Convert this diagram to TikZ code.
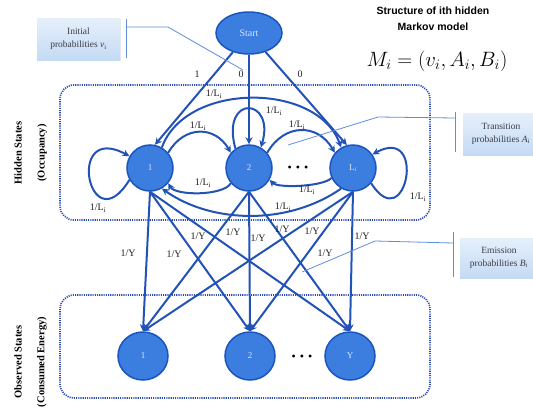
\documentclass[tikz,border=0pt]{standalone}
\usepackage{fontspec}
\setmainfont{Liberation Serif}
\newfontfamily\titlefont{Liberation Sans}
\usetikzlibrary{arrows.meta,shapes.geometric,shadows}

\definecolor{nodefill}{RGB}{60,126,224}
\definecolor{nodeline}{RGB}{28,84,190}
\definecolor{edgeblue}{RGB}{34,82,182}
\definecolor{frameblue}{RGB}{44,78,176}
\definecolor{leader}{RGB}{96,140,220}
\definecolor{calltop}{RGB}{230,240,252}
\definecolor{callbot}{RGB}{196,218,244}
\definecolor{calltext}{RGB}{60,60,70}
\definecolor{nodetext}{RGB}{215,230,252}
\definecolor{labeltext}{RGB}{30,30,30}

\begin{document}
\begin{tikzpicture}[x=1pt,y=-1pt,
  startnode/.style={ellipse, draw=nodeline, line width=1.5pt, fill=nodefill,
    minimum width=66pt, minimum height=42pt, inner sep=0pt, text=nodetext,
    font=\fontsize{10}{11}\selectfont},
  state/.style={circle, draw=nodeline, line width=1.5pt, fill=nodefill,
    minimum size=46pt, inner sep=0pt, text=nodetext, font=\fontsize{9}{10}\selectfont},
  obs/.style={ellipse, draw=nodeline, line width=1.5pt, fill=nodefill,
    minimum width=50pt, minimum height=48pt, inner sep=0pt, text=nodetext,
    font=\fontsize{9}{10}\selectfont},
  frame/.style={draw=frameblue, line width=1.7pt, dash pattern=on 1.1pt off 1.1pt,
    rounded corners=14pt},
  link/.style={draw=edgeblue, line width=2pt, -{Stealth[length=7pt,width=7pt]}},
  lbl/.style={text=labeltext, font=\fontsize{10}{11}\selectfont, inner sep=1pt},
  dotrow/.style={text=black, font=\fontsize{12}{12}\selectfont, inner sep=0pt},
  callout/.style={top color=calltop, bottom color=callbot, draw=none, text=calltext,
    font=\fontsize{9.5}{13}\selectfont, align=center, inner sep=0pt,
    drop shadow={shadow xshift=1pt, shadow yshift=-1.2pt, opacity=0.18}},
  leaderline/.style={draw=leader, line width=0.8pt},
  side/.style={rotate=90, text=black, font=\bfseries\fontsize{10.5}{12}\selectfont}
]
\useasboundingbox (0,0) rectangle (533,410);
\clip (0,0) rectangle (533,410);

% dotted group frames
\draw[frame] (60,85) rectangle (430,220);
\draw[frame] (60,295) rectangle (430,398);

% group captions
\node[side] (hs)  at (18,153) {Hidden States};
\node[side] (occ) at (42,153) {(Occupancy)};
\node[side] (os)  at (18,362) {Observed States};
\node[side] (ce)  at (42,362) {(Consumed Energy)};

% model title
\node[font=\titlefont\bfseries\fontsize{10.5}{16}\selectfont, align=center] (title)
  at (433,19) {Structure of ith hidden\\Markov model};
\node[font=\fontsize{22}{26}\selectfont] (model) at (437,61) {$M_i=(v_i,A_i,B_i)$};

% states
\node[startnode] (S) at (249,33) {Start};
\node[state] (H1) at (150,168) {1};
\node[state] (H2) at (249,168) {2};
\node[state] (HL) at (353,168) {L\textsubscript{i}};
\node[dotrow] (hd) at (298,169) {\textbullet\hspace{4pt}\textbullet\hspace{4pt}\textbullet};

\node[obs] (O1) at (143,356) {1};
\node[obs] (O2) at (250,356) {2};
\node[obs] (OY) at (350,356) {Y};
\node[dotrow] (od) at (302,358) {\textbullet\hspace{4pt}\textbullet\hspace{4pt}\textbullet};

% initial probabilities
\draw[link] (S) -- (H1.78);
\draw[link] (S) -- (H2);
\draw[link] (S) -- (HL.105);
\node[lbl] (p1) at (197,74) {1};
\node[lbl] (p2) at (241,74) {0};
\node[lbl] (p3) at (300,74) {0};

% transitions between hidden states
\draw[link] (H1.210) .. controls +(-40,65) and +(-65,-35) .. (H1.150);
\draw[link] (H2.125) .. controls +(-15,-55) and +(15,-50) .. (H2.60);
\draw[link] (HL.-40) .. controls +(35,55) and +(55,-30) .. (HL.35);
\draw[link] (H1.40) to[out=60,in=120,looseness=1.3] (H2.140);
\draw[link] (H2.40) to[out=60,in=120,looseness=1.3] (HL.140);
\draw[link] (H2.220) to[out=240,in=300,looseness=0.6] (H1.320);
\draw[link] (HL.205) to[out=225,in=315,looseness=0.5] (H2.330);
\draw[link] (H1.60) to[out=70,in=110] (HL.120);
\draw[link] (HL.240) to[out=215,in=325,looseness=0.9] (H1.300);

\node[lbl] (t11) at (98,208) {1/L\textsubscript{i}};
\node[lbl] (t22) at (274,111) {1/L\textsubscript{i}};
\node[lbl] (tLL) at (418,197) {1/L\textsubscript{i}};
\node[lbl] (t12) at (198,126) {1/L\textsubscript{i}};
\node[lbl] (t2L) at (297,125) {1/L\textsubscript{i}};
\node[lbl] (t21) at (203,183) {1/L\textsubscript{i}};
\node[lbl] (tL2) at (307,190) {1/L\textsubscript{i}};
\node[lbl] (t1L) at (214,94) {1/L\textsubscript{i}};
\node[lbl] (tL1) at (283,207) {1/L\textsubscript{i}};

% emissions
\foreach \h in {H1,H2,HL}{
  \foreach \o in {O1,O2,OY}{
    \draw[link] (\h.south) -- (\o.north);
  }
}
\node[lbl] (e1) at (128,253) {1/Y};
\node[lbl] (e2) at (174,254) {1/Y};
\node[lbl] (e3) at (198,236) {1/Y};
\node[lbl] (e4) at (233,232) {1/Y};
\node[lbl] (e5) at (258,238) {1/Y};
\node[lbl] (e6) at (282,229) {1/Y};
\node[lbl] (e7) at (312,231) {1/Y};
\node[lbl] (e8) at (362,236) {1/Y};
\node[lbl] (e9) at (325,253) {1/Y};

% callouts
\node[callout, minimum width=83pt, minimum height=42pt] (ci) at (78.5,39)
  {Initial\\probabilities \textit{v}\textsubscript{i}};
\coordinate (ciT) at (126,19);
\coordinate (ciB) at (126,58);
\coordinate (ciA) at (126,27);
\coordinate (ciK) at (168,27);
\coordinate (ciE) at (243,70);
\draw[leaderline] (ciT) -- (ciB);
\draw[leaderline] (ciA) -- (ciK) -- (ciE);

\node[callout, minimum width=76pt, minimum height=42pt] (ct) at (501,134)
  {Transition\\probabilities \textit{A}\textsubscript{i}};
\coordinate (ctT) at (455,112);
\coordinate (ctB) at (455,152);
\coordinate (ctA) at (455,118);
\coordinate (ctK) at (378,117);
\coordinate (ctE) at (288,145);
\draw[leaderline] (ctT) -- (ctB);
\draw[leaderline] (ctA) -- (ctK) -- (ctE);

\node[callout, minimum width=78pt, minimum height=40pt] (ce2) at (499,258)
  {Emission\\probabilities \textit{B}\textsubscript{i}};
\coordinate (cmT) at (453,232);
\coordinate (cmB) at (453,277);
\coordinate (cmA) at (453,243);
\coordinate (cmK) at (375,241);
\coordinate (cmE) at (302,272);
\draw[leaderline] (cmT) -- (cmB);
\draw[leaderline] (cmA) -- (cmK) -- (cmE);
\end{tikzpicture}
\end{document}
